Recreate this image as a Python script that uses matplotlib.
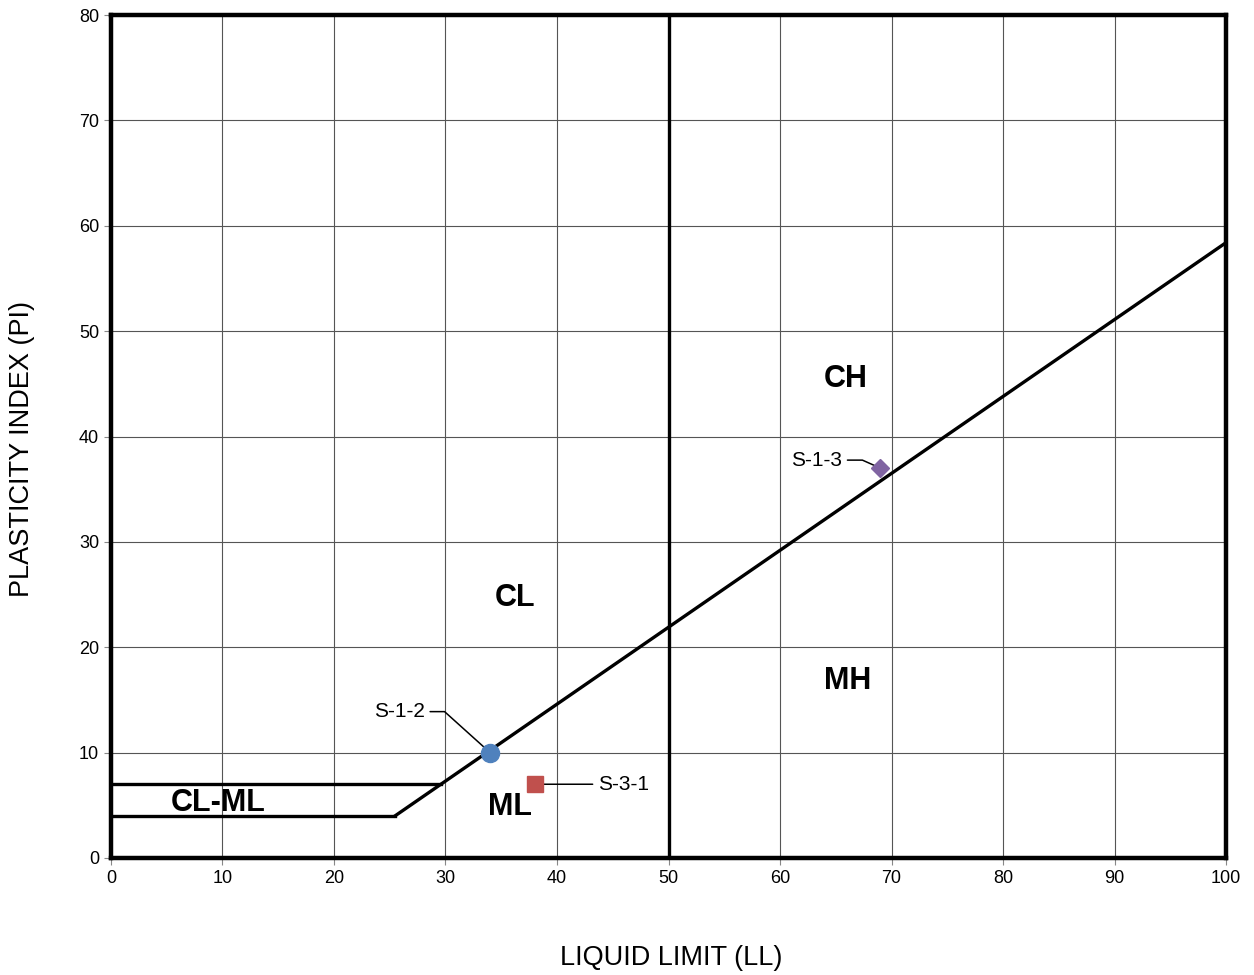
import numpy as np
import matplotlib
matplotlib.use("Agg")
import matplotlib.pyplot as plt

plt.rcParams['font.family'] = ['Liberation Sans', 'DejaVu Sans']

# sample data (LL, PI)
sample_names = ['S-1-2', 'S-3-1', 'S-1-3']
sample_ll = [34, 38, 69]
sample_pi = [10, 7, 37]
sample_colors = ['#4F81BD', '#C0504D', '#8064A2']
sample_markers = ['o', 's', 'D']
sample_sizes = [13, 11, 9]
label_offsets = [(-91, 41), (89, 0), (-64, 8)]
label_conn = ['angle,angleA=0,angleB=138', 'arc3', 'angle,angleA=0,angleB=156']

# zone labels
zone_names = ['CL', 'CH', 'MH', 'ML', 'CL-ML']
zone_x = [36.2, 65.9, 66.1, 35.8, 9.6]
zone_y = [24.7, 45.5, 16.8, 4.8, 5.2]

# A-line: PI = 0.73 (LL - 20), U-shaped boundary lines at PI 4 and 7
ll_a = np.array([25.48, 100])
pi_a = 0.73 * (ll_a - 20)
ll_4 = 4 / 0.73 + 20
ll_7 = 7 / 0.73 + 20

fig = plt.figure(figsize=(12.54, 9.75), dpi=100)
ax = fig.add_axes([0.0885, 0.12, 0.8892, 0.8646])

ax.set_xlim(0, 100)
ax.set_ylim(0, 80)
ax.set_xticks(np.arange(0, 101, 10))
ax.set_yticks(np.arange(0, 81, 10))
ax.grid(True, color='#555555', linewidth=0.8)
ax.set_axisbelow(True)
ax.tick_params(labelsize=13, length=5, width=0.8, color='#888888')
for s in ax.spines.values():
    s.set_linewidth(3.2)

lw = 2.4
ax.plot(ll_a, pi_a, color='black', lw=lw, zorder=3)
ax.plot([0, ll_4], [4, 4], color='black', lw=lw, zorder=3)
ax.plot([0, ll_7], [7, 7], color='black', lw=lw, zorder=3)
ax.plot([50, 50], [0, 80], color='black', lw=lw, zorder=3)

for n, x, y in zip(zone_names, zone_x, zone_y):
    ax.text(x, y, n, fontsize=22, fontweight='bold', ha='center', va='center')

for i in range(len(sample_names)):
    ax.plot(sample_ll[i], sample_pi[i], marker=sample_markers[i], ms=sample_sizes[i],
            color=sample_colors[i], ls='none', zorder=5)
    ax.annotate(sample_names[i], xy=(sample_ll[i], sample_pi[i]),
                xytext=label_offsets[i], textcoords='offset pixels',
                fontsize=15, ha='center', va='center',
                arrowprops=dict(arrowstyle='-', color='black', lw=1.1,
                                connectionstyle=label_conn[i], shrinkB=0),
                zorder=4)

ax.set_xlabel('LIQUID LIMIT (LL)', fontsize=19.5, va='center')
ax.set_ylabel('PLASTICITY INDEX (PI)', fontsize=19.5, va='center')
ax.xaxis.set_label_coords(0.502, -0.1186)
ax.yaxis.set_label_coords(-0.0798, 0.485)

fig.savefig('out.png', dpi=100)
